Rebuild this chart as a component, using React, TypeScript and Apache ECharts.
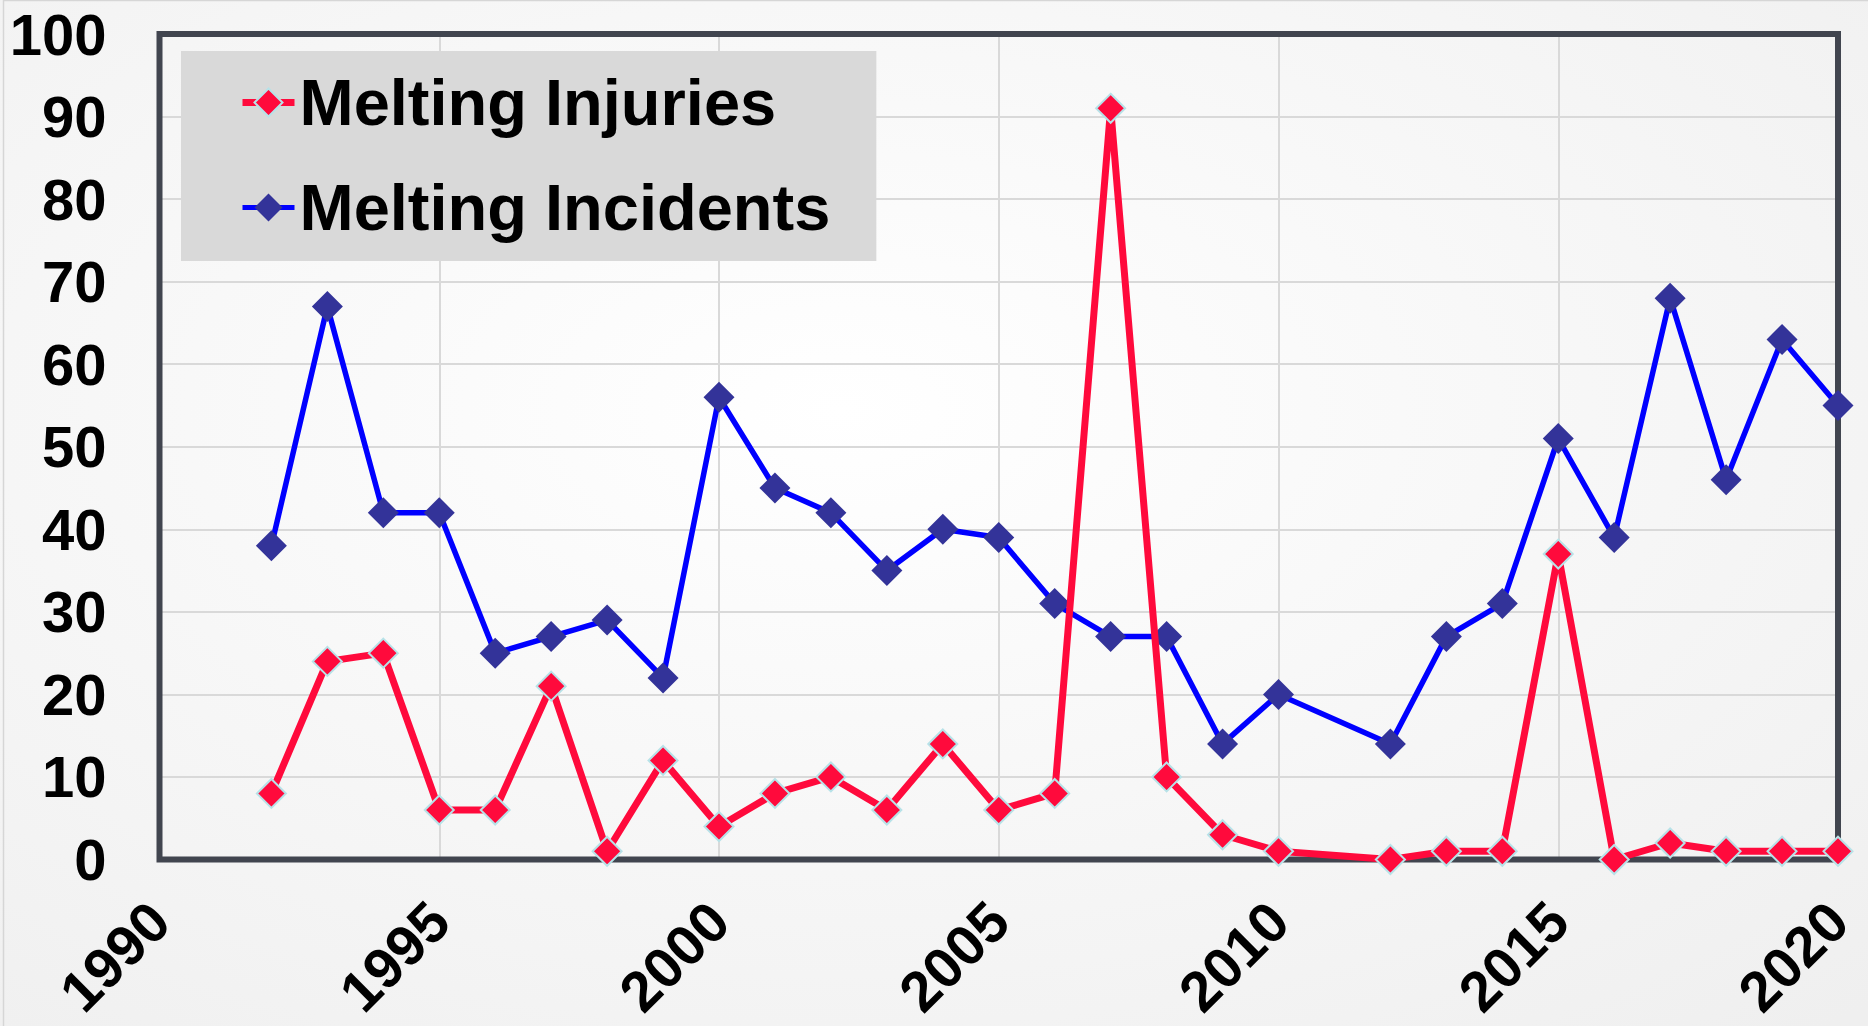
import React, { useEffect, useRef } from "react";
import * as echarts from "echarts";

const years = [1992, 1993, 1994, 1995, 1996, 1997, 1998, 1999, 2000, 2001, 2002, 2003, 2004, 2005, 2006, 2007, 2008, 2009, 2010, 2012, 2013, 2014, 2015, 2016, 2017, 2018, 2019, 2020];
const injuries = [8, 24, 25, 6, 6, 21, 1, 12, 4, 8, 10, 6, 14, 6, 8, 91, 10, 3, 1, 0, 1, 1, 37, 0, 2, 1, 1, 1];
const incidents = [38, 67, 42, 42, 25, 27, 29, 22, 56, 45, 42, 35, 40, 39, 31, 27, 27, 14, 20, 14, 27, 31, 51, 39, 68, 46, 63, 55];
const xMin = 1990;
const xMax = 2020;
const xStep = 5;
const yMin = 0;
const yMax = 100;
const yStep = 10;
const seriesNames = ["Melting Injuries", "Melting Incidents"];

const W = 1868;
const H = 1026;
const G = { left: 159.5, right: 30, top: 34, bottom: 166.5 };

export default function App() {
  const ref = useRef<HTMLDivElement>(null);
  useEffect(() => {
    document.body.style.margin = "0";
    const chart = echarts.init(ref.current!, undefined, { renderer: "svg" });
    const font = "'Liberation Sans', Arial, sans-serif";
    const pairs = (vals: number[]) => years.map((y, i) => [y, vals[i]]);
    const grid = { show: true, showMinLine: false, showMaxLine: false, lineStyle: { color: "#d9d9d9", width: 2 } };
    const label = {
      fontSize: 58,
      fontWeight: "bold",
      fontFamily: font,
      color: "#000000",
    };
    chart.setOption({
      animation: false,
      backgroundColor: {
        type: "radial",
        x: 0.45,
        y: 0.4,
        r: 0.8,
        colorStops: [
          { offset: 0, color: "#ffffff" },
          { offset: 1, color: "#efefef" },
        ],
      },
      graphic: [
        {
          type: "rect",
          shape: { x: 3.5, y: 0.5, width: 1900, height: 1100 },
          style: { fill: "none", stroke: "#d6d6d6", lineWidth: 1.5 },
          silent: true,
          z: 0,
        },
        {
          type: "rect",
          shape: {
            x: G.left,
            y: G.top,
            width: W - G.left - G.right,
            height: H - G.top - G.bottom,
          },
          style: { fill: "none", stroke: "#41454f", lineWidth: 6 },
          silent: true,
          z: 1,
        },
      ],
      grid: { ...G, outerBoundsMode: "none", containLabel: false },
      legend: {
        orient: "vertical",
        left: 181,
        top: 51,
        backgroundColor: "#d9d9d9",
        borderRadius: 0,
        padding: [19, 46, 21, 58],
        itemGap: 40,
        itemWidth: 52,
        itemHeight: 35,
        textStyle: {
          fontFamily: font,
          fontWeight: "bold",
          fontSize: 65,
          lineHeight: 64,
          color: "#000000",
        },
        data: [
          {
            name: seriesNames[0],
            lineStyle: { width: 7, color: "#ff0a3c" },
            itemStyle: { color: "#ff0a3c", borderColor: "#b7e2e8", borderWidth: 2 },
          },
          {
            name: seriesNames[1],
            lineStyle: { width: 5, color: "#0000ff" },
            itemStyle: { color: "#333399", borderWidth: 0 },
          },
        ],
      },
      xAxis: {
        type: "value",
        min: xMin,
        max: xMax,
        interval: xStep,
        axisLine: { show: false },
        axisTick: { show: false },
        splitLine: grid,
        axisLabel: {
          ...label,
          fontSize: 57,
          lineHeight: 57,
          rotate: 45,
          margin: 52,
          showMinLabel: true,
          showMaxLabel: true,
          formatter: (v: number) => String(v),
        },
      },
      yAxis: {
        type: "value",
        min: yMin,
        max: yMax,
        interval: yStep,
        axisLine: { show: false },
        axisTick: { show: false },
        splitLine: grid,
        axisLabel: { ...label, margin: 53 },
      },
      series: [
        {
          name: seriesNames[1],
          type: "line",
          data: pairs(incidents),
          clip: false,
          symbol: "diamond",
          symbolSize: 31,
          lineStyle: { color: "#0000ff", width: 5.5 },
          itemStyle: { color: "#333399", borderWidth: 0 },
          z: 3,
        },
        {
          name: seriesNames[0],
          type: "line",
          data: pairs(injuries),
          clip: false,
          symbol: "diamond",
          symbolSize: 29,
          lineStyle: { color: "#ff0a3c", width: 7 },
          itemStyle: { color: "#ff0a3c", borderColor: "#b7e2e8", borderWidth: 2 },
          z: 4,
        },
      ],
    });
    return () => chart.dispose();
  }, []);
  return <div ref={ref} style={{ width: W, height: H }} />;
}
